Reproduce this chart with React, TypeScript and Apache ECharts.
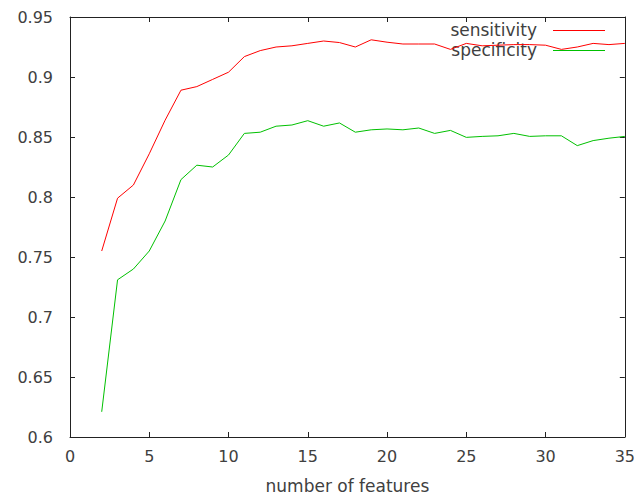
import React, { useEffect, useRef } from "react";
import * as echarts from "echarts";

const features = [2,3,4,5,6,7,8,9,10,11,12,13,14,15,16,17,18,19,20,21,22,23,24,25,26,27,28,29,30,31,32,33,34,35];
const sensitivity = [0.755,0.799,0.81,0.836,0.864,0.889,0.892,0.898,0.904,0.917,0.922,0.925,0.926,0.928,0.930,0.9287,0.925,0.931,0.929,0.9275,0.9275,0.9275,0.923,0.928,0.926,0.9265,0.927,0.927,0.9265,0.923,0.925,0.928,0.927,0.928];
const specificity = [0.621,0.731,0.74,0.755,0.78,0.8145,0.8265,0.825,0.835,0.853,0.854,0.859,0.860,0.8636,0.859,0.8617,0.854,0.856,0.8567,0.856,0.8575,0.853,0.8555,0.8497,0.8505,0.851,0.853,0.8505,0.851,0.851,0.8428,0.847,0.849,0.8505];
const seriesNames = ["sensitivity", "specificity"];
const xTitle = "number of features";

const FONT = "DejaVu Sans";
const TEXT = "#404040";
const FRAME = "#222";

export default function App() {
  const ref = useRef<HTMLDivElement>(null);
  useEffect(() => {
    if (!ref.current) return;
    const chart = echarts.init(ref.current, null, { renderer: "svg" });
    const axisCommon = {
      axisLine: { show: true, onZero: false, lineStyle: { color: FRAME, width: 1 } },
      axisTick: { show: true, inside: true, length: 5, lineStyle: { color: FRAME } },
      splitLine: { show: false },
    };
    chart.setOption({
      animation: false,
      backgroundColor: "#fff",
      grid: { left: 70, right: 11, top: 17, bottom: 59, containLabel: false },
      xAxis: [
        {
          type: "value", min: 0, max: 35, interval: 5, position: "bottom",
          ...axisCommon,
          axisLabel: { color: TEXT, fontFamily: FONT, fontSize: 16, margin: 11 },
          name: xTitle, nameLocation: "middle", nameGap: 40,
          nameTextStyle: { color: TEXT, fontFamily: FONT, fontSize: 17 },
        },
        {
          type: "value", min: 0, max: 35, interval: 5, position: "top",
          ...axisCommon, axisLabel: { show: false },
        },
      ],
      yAxis: [
        {
          type: "value", min: 0.6, max: 0.95, interval: 0.05, position: "left",
          ...axisCommon,
          axisLabel: { color: TEXT, fontFamily: FONT, fontSize: 16, margin: 17,
            formatter: (v: number) => String(parseFloat(v.toFixed(2))) },
        },
        {
          type: "value", min: 0.6, max: 0.95, interval: 0.05, position: "right",
          ...axisCommon, axisLabel: { show: false },
        },
      ],
      series: [
        {
          name: seriesNames[0], type: "line", showSymbol: false, symbol: "none",
          data: features.map((f, i) => [f, sensitivity[i]]),
          lineStyle: { color: "#ff0000", width: 1 }, itemStyle: { color: "#ff0000" },
        },
        {
          name: seriesNames[1], type: "line", showSymbol: false, symbol: "none",
          data: features.map((f, i) => [f, specificity[i]]),
          lineStyle: { color: "#00c000", width: 1 }, itemStyle: { color: "#00c000" },
        },
      ],
      graphic: [
        { type: "text", x: 537, y: 30, style: { text: seriesNames[0], fill: TEXT, font: `17px '${FONT}'`, textAlign: "right", textVerticalAlign: "middle" } },
        { type: "line", shape: { x1: 553, y1: 30.5, x2: 605, y2: 30.5 }, style: { stroke: "#ff0000", lineWidth: 1 } },
        { type: "text", x: 537, y: 50, style: { text: seriesNames[1], fill: TEXT, font: `17px '${FONT}'`, textAlign: "right", textVerticalAlign: "middle" } },
        { type: "line", shape: { x1: 553, y1: 50.5, x2: 605, y2: 50.5 }, style: { stroke: "#00c000", lineWidth: 1 } },
      ],
    });
    return () => chart.dispose();
  }, []);
  return <div ref={ref} style={{ width: 638, height: 499, position: "absolute", left: 0, top: 0 }} />;
}
